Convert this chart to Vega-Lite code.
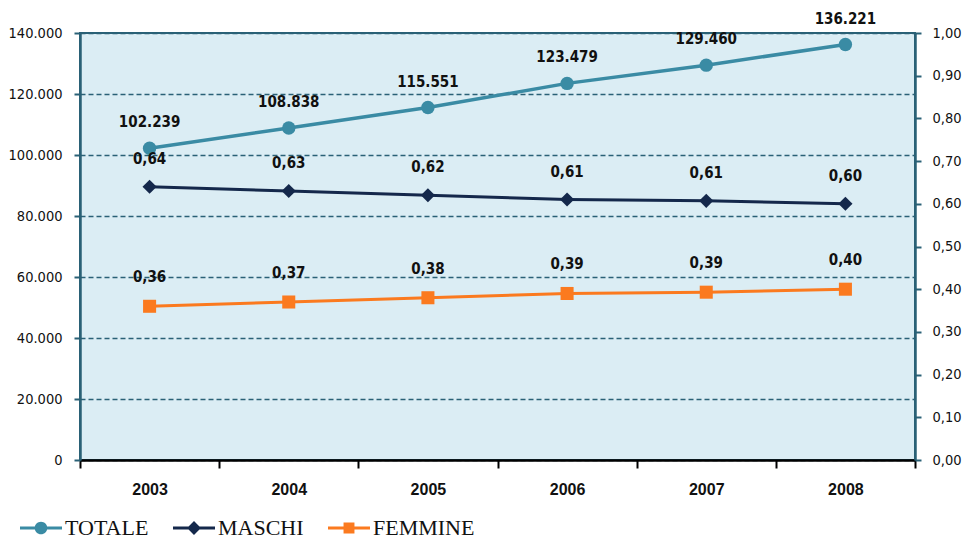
{
  "$schema": "https://vega.github.io/schema/vega-lite/v6.json",
  "width": 835,
  "height": 427,
  "autosize": {"type": "none"},
  "padding": {"left": 80, "top": 33, "right": 48, "bottom": 79},
  "background": "white",
  "config": {
    "locale": {"number": {"decimal": ",", "thousands": ".", "grouping": [3], "currency": ["€", ""]}},
    "view": {"fill": "#dbedf4", "stroke": "#2a6176", "strokeWidth": 2}
  },
  "data": {
    "values": [
      {"anno": "2003", "totale": 102239, "maschi": 0.64, "femmine": 0.36},
      {"anno": "2004", "totale": 108838, "maschi": 0.63, "femmine": 0.37},
      {"anno": "2005", "totale": 115551, "maschi": 0.62, "femmine": 0.38},
      {"anno": "2006", "totale": 123479, "maschi": 0.61, "femmine": 0.39},
      {"anno": "2007", "totale": 129460, "maschi": 0.607, "femmine": 0.393},
      {"anno": "2008", "totale": 136221, "maschi": 0.60, "femmine": 0.40}
    ]
  },
  "encoding": {
    "x": {
      "field": "anno", "type": "ordinal", "bandPosition": 0.5,
      "scale": {"type": "band", "paddingInner": 0, "paddingOuter": 0},
      "axis": {
        "title": null, "labelAngle": 0, "tickBand": "extent",
        "domainColor": "#000", "domainWidth": 2.5, "tickColor": "#000", "tickWidth": 2, "tickSize": 8,
        "labelFont": "Liberation Sans", "labelFontWeight": "bold", "labelFontSize": 16, "labelPadding": 13, "labelColor": "#111"
      }
    }
  },
  "layer": [
    {
      "layer": [
        {
          "mark": {"type": "line", "strokeWidth": 3.5, "point": {"filled": true, "shape": "circle", "size": 180, "opacity": 1}},
          "encoding": {
            "y": {
              "field": "totale", "type": "quantitative",
              "scale": {"domain": [0, 140000], "nice": false},
              "axis": {
                "orient": "left", "title": null, "values": [0, 20000, 40000, 60000, 80000, 100000, 120000, 140000], "format": ",d",
                "grid": true, "gridDash": [5, 3], "gridColor": "#2a6176", "gridWidth": 1.3,
                "domainColor": "#2a6176", "domainWidth": 2.5, "tickColor": "#2a6176", "tickWidth": 2, "tickSize": 6,
                "labelFont": "DejaVu Sans Condensed", "labelFontSize": 14.5, "labelColor": "#111", "labelPadding": 12
              }
            },
            "color": {
              "datum": "TOTALE", "type": "nominal",
              "scale": {"domain": ["TOTALE", "MASCHI", "FEMMINE"], "range": ["#3a8ba4", "#14284b", "#fb7a1f"]},
              "legend": {
                "orient": "none", "legendX": -60, "legendY": 474, "direction": "horizontal", "title": null,
                "labelFont": "Liberation Serif", "labelFontSize": 22, "labelColor": "#111", "labelOffset": 3,
                "symbolSize": 1764, "columnPadding": 24, "symbolStrokeWidth": 0,
                "encode": {
                  "symbols": {
                    "update": {
                      "shape": {"signal": "datum.value === 'TOTALE' ? 'M-1,-0.07H1V0.07H-1Z M-0.3,0A0.3,0.3 0 1,1 0.3,0A0.3,0.3 0 1,1 -0.3,0Z' : datum.value === 'MASCHI' ? 'M-1,-0.07H1V0.07H-1Z M0,-0.33L0.33,0L0,0.33L-0.33,0Z' : 'M-1,-0.07H1V0.07H-1Z M-0.26,-0.26H0.26V0.26H-0.26Z'"},
                      "fill": {"signal": "scale('color', datum.value)"},
                      "stroke": {"value": "transparent"},
                      "opacity": {"value": 1}
                    }
                  }
                }
              }
            }
          }
        },
        {
          "mark": {"type": "text", "dy": -26, "font": "DejaVu Sans Condensed", "fontWeight": "bold", "fontSize": 15, "color": "#111"},
          "encoding": {
            "y": {"field": "totale", "type": "quantitative"},
            "text": {"field": "totale", "type": "quantitative", "format": ",d"}
          }
        }
      ]
    },
    {
      "layer": [
        {
          "mark": {"type": "line", "strokeWidth": 3, "point": {"filled": true, "shape": "diamond", "size": 200, "opacity": 1}},
          "encoding": {
            "y": {
              "field": "maschi", "type": "quantitative",
              "scale": {"domain": [0, 1], "nice": false},
              "axis": {
                "orient": "right", "title": null, "values": [0, 0.1, 0.2, 0.3, 0.4, 0.5, 0.6, 0.7, 0.8, 0.9, 1], "format": ".2f",
                "grid": false,
                "domainColor": "#2a6176", "domainWidth": 2.5, "tickColor": "#2a6176", "tickWidth": 2, "tickSize": 6,
                "labelFont": "DejaVu Sans Condensed", "labelFontSize": 14.5, "labelColor": "#111", "labelPadding": 11
              }
            },
            "color": {"datum": "MASCHI", "type": "nominal"}
          }
        },
        {
          "mark": {"type": "text", "dy": -28, "font": "DejaVu Sans Condensed", "fontWeight": "bold", "fontSize": 15, "color": "#111"},
          "encoding": {
            "y": {"field": "maschi", "type": "quantitative"},
            "text": {"field": "maschi", "type": "quantitative", "format": ".2f"}
          }
        },
        {
          "mark": {"type": "line", "strokeWidth": 3, "point": {"filled": true, "shape": "square", "size": 170, "opacity": 1}},
          "encoding": {
            "y": {"field": "femmine", "type": "quantitative"},
            "color": {"datum": "FEMMINE", "type": "nominal"}
          }
        },
        {
          "mark": {"type": "text", "dy": -29, "font": "DejaVu Sans Condensed", "fontWeight": "bold", "fontSize": 15, "color": "#111"},
          "encoding": {
            "y": {"field": "femmine", "type": "quantitative"},
            "text": {"field": "femmine", "type": "quantitative", "format": ".2f"}
          }
        }
      ]
    }
  ],
  "resolve": {"scale": {"y": "independent"}}
}
